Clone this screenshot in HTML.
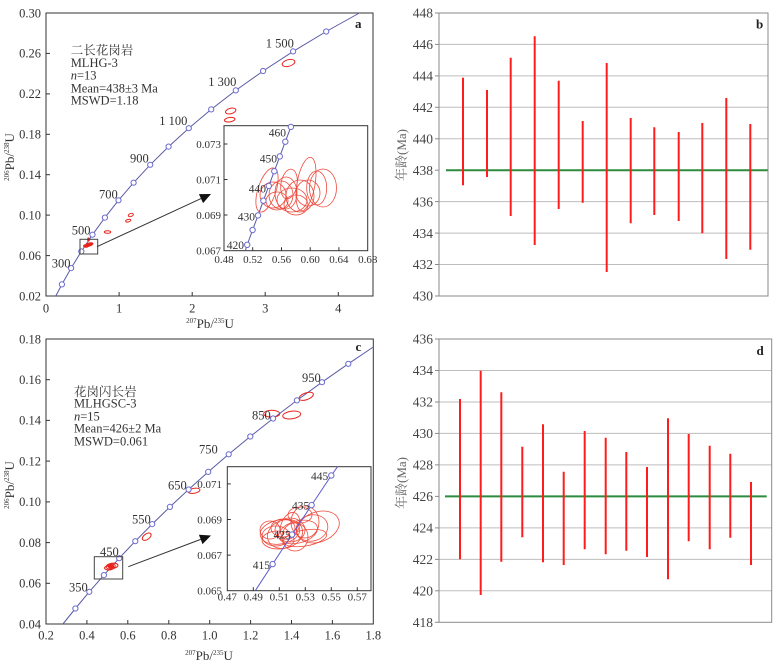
<!DOCTYPE html>
<html><head><meta charset="utf-8"><style>
html,body{margin:0;padding:0;background:#fff;}
svg{display:block;}
text{font-family:"Liberation Serif","Noto Serif CJK SC",serif;}
</style></head><body>
<svg width="780" height="667" viewBox="0 0 780 667" xmlns="http://www.w3.org/2000/svg">
<rect width="780" height="667" fill="#fff"/>

<!-- ================= PANEL A ================= -->
<g>
<rect x="46" y="13" width="327" height="283" fill="none" stroke="#333" stroke-width="1"/>
<g stroke="#333" stroke-width="1">
<line x1="46" y1="255.6" x2="50" y2="255.6"/><line x1="46" y1="215.1" x2="50" y2="215.1"/>
<line x1="46" y1="174.7" x2="50" y2="174.7"/><line x1="46" y1="134.3" x2="50" y2="134.3"/>
<line x1="46" y1="93.9" x2="50" y2="93.9"/><line x1="46" y1="53.4" x2="50" y2="53.4"/>
<line x1="119.1" y1="296" x2="119.1" y2="292"/><line x1="192.2" y1="296" x2="192.2" y2="292"/>
<line x1="265.2" y1="296" x2="265.2" y2="292"/><line x1="338.3" y1="296" x2="338.3" y2="292"/>
</g>
<g font-size="12.5" fill="#333" text-anchor="end">
<text x="41" y="17.3">0.30</text><text x="41" y="57.7">0.26</text><text x="41" y="98.2">0.22</text>
<text x="41" y="138.6">0.18</text><text x="41" y="179">0.14</text><text x="41" y="219.4">0.10</text>
<text x="41" y="259.9">0.06</text><text x="41" y="300.3">0.02</text>
</g>
<g font-size="12.5" fill="#333" text-anchor="middle">
<text x="46" y="312.5">0</text><text x="119.1" y="312.5">1</text><text x="192.2" y="312.5">2</text>
<text x="265.2" y="312.5">3</text><text x="338.3" y="312.5">4</text>
</g>
<text x="210" y="328" font-size="13" fill="#333" text-anchor="middle"><tspan font-size="7" dy="-5">207</tspan><tspan dy="5">Pb/</tspan><tspan font-size="7" dy="-5">235</tspan><tspan dy="5">U</tspan></text>
<text transform="translate(14,157) rotate(-90)" font-size="13" fill="#333" text-anchor="middle"><tspan font-size="7" dy="-5">206</tspan><tspan dy="5">Pb/</tspan><tspan font-size="7" dy="-5">238</tspan><tspan dy="5">U</tspan></text>
<text x="355" y="28" font-size="13" font-weight="bold" fill="#222">a</text>

<polyline fill="none" stroke="#5a5aa6" stroke-width="1" points="55.8,296 61.9,284.4 71.1,268.1 81.3,251.5 92.5,234.7 104.9,217.6 118.5,200.3 133.6,182.7 150.2,164.8 168.6,146.6 188.8,128.2 211.2,109.4 235.8,90.4 263.1,71.0 293.1,51.4 326.2,31.5 359.4,13"/>
<g fill="#fff" stroke="#6b6bd0" stroke-width="1">
<circle cx="61.9" cy="284.4" r="2.6"/><circle cx="71.1" cy="268.1" r="2.6"/><circle cx="81.3" cy="251.5" r="2.6"/>
<circle cx="92.5" cy="234.7" r="2.6"/><circle cx="104.9" cy="217.6" r="2.6"/><circle cx="118.5" cy="200.3" r="2.6"/>
<circle cx="133.6" cy="182.7" r="2.6"/><circle cx="150.2" cy="164.8" r="2.6"/><circle cx="168.6" cy="146.6" r="2.6"/>
<circle cx="188.8" cy="128.2" r="2.6"/><circle cx="211.2" cy="109.4" r="2.6"/><circle cx="235.8" cy="90.4" r="2.6"/>
<circle cx="263.1" cy="71.0" r="2.6"/><circle cx="293.1" cy="51.4" r="2.6"/><circle cx="326.2" cy="31.5" r="2.6"/>
</g>
<g font-size="12.5" fill="#333">
<text x="51.7" y="267.6">300</text><text x="71.7" y="234.3">500</text><text x="99" y="198.3">700</text>
<text x="130" y="162.6">900</text><text x="159.3" y="125">1 100</text><text x="208.3" y="86">1 300</text>
<text x="265.7" y="47.6">1 500</text>
</g>
<g font-size="12.5" fill="#333">
<text x="70.7" y="54.5" font-family="Noto Serif CJK SC, serif">二长花岗岩</text>
<text x="70.7" y="67">MLHG-3</text>
<text x="70.7" y="79.3"><tspan font-style="italic">n</tspan>=13</text>
<text x="70.7" y="92.3">Mean=438±3 Ma</text>
<text x="70.7" y="104.3">MSWD=1.18</text>
</g>
<!-- red ellipses main a -->
<g fill="none" stroke="#e8231c" stroke-width="1">
<ellipse cx="288.5" cy="63" rx="6.5" ry="3.3" transform="rotate(-15 288.5 63)"/>
<ellipse cx="230.7" cy="111" rx="5.3" ry="2.7" transform="rotate(-15 230.7 111)"/>
<ellipse cx="229.7" cy="119.7" rx="5.3" ry="2.2" transform="rotate(-8 229.7 119.7)"/>
<ellipse cx="130.8" cy="215" rx="2.6" ry="1.5" transform="rotate(-20 130.8 215)"/>
<ellipse cx="128.2" cy="220.7" rx="2.6" ry="1.2" transform="rotate(-15 128.2 220.7)"/>
<ellipse cx="107.5" cy="232" rx="3.2" ry="1.3"/>
</g>
<g fill="#e8231c" stroke="#e8231c" stroke-width="0.8">
<ellipse cx="89" cy="244.6" rx="4.2" ry="1.7" transform="rotate(-15 89 244.6)"/>
<ellipse cx="86" cy="246" rx="2.5" ry="1.3"/>
<ellipse cx="88.5" cy="239.5" rx="1" ry="1.6"/>
</g>
<rect x="80" y="239.3" width="17.7" height="14.7" fill="none" stroke="#444" stroke-width="1"/>
<line x1="97" y1="246.7" x2="201" y2="198.6" stroke="#333" stroke-width="1"/>
<polygon points="211,194 203.1,203.1 198.9,194.1" fill="#111"/>

<!-- inset a -->
<rect x="224" y="125.7" width="143.7" height="125" fill="#fff" stroke="#333" stroke-width="1"/>
<g stroke="#333" stroke-width="1">
<line x1="252.7" y1="250.7" x2="252.7" y2="247.2"/><line x1="281.5" y1="250.7" x2="281.5" y2="247.2"/>
<line x1="310.2" y1="250.7" x2="310.2" y2="247.2"/><line x1="338.9" y1="250.7" x2="338.9" y2="247.2"/>
<line x1="224" y1="215" x2="227.5" y2="215"/><line x1="224" y1="179.5" x2="227.5" y2="179.5"/>
<line x1="224" y1="144" x2="227.5" y2="144"/>
</g>
<g font-size="11" fill="#333" text-anchor="end">
<text x="221" y="148">0.073</text><text x="221" y="183.5">0.071</text>
<text x="221" y="219">0.069</text><text x="221" y="254.5">0.067</text>
</g>
<g font-size="11" fill="#333" text-anchor="middle">
<text x="224" y="263">0.48</text><text x="252.7" y="263">0.52</text><text x="281.5" y="263">0.56</text>
<text x="310.2" y="263">0.60</text><text x="338.9" y="263">0.64</text><text x="367.7" y="263">0.68</text>
</g>
<g fill="none" stroke="#ee4a3c" stroke-width="0.8">
<ellipse cx="267" cy="190" rx="9" ry="23" transform="rotate(18 267 190)"/>
<ellipse cx="273" cy="195" rx="13" ry="13"/>
<ellipse cx="281" cy="195" rx="12" ry="14"/>
<ellipse cx="286" cy="193" rx="11" ry="16"/>
<ellipse cx="306" cy="184" rx="9" ry="27" transform="rotate(10 306 184)"/>
<ellipse cx="323" cy="188" rx="13.5" ry="19"/>
<ellipse cx="316.7" cy="188" rx="10" ry="17"/>
<ellipse cx="292" cy="200" rx="15" ry="12"/>
<ellipse cx="300" cy="196" rx="14" ry="16"/>
<ellipse cx="289" cy="184" rx="8" ry="15" transform="rotate(10 289 184)"/>
<ellipse cx="296" cy="205" rx="12" ry="10"/>
<ellipse cx="308" cy="193" rx="12" ry="13"/>
<ellipse cx="277" cy="201" rx="11" ry="9"/>
</g>
<polyline fill="none" stroke="#5a5aa6" stroke-width="1" points="245.3,250.7 247.2,244.8 252.6,230.0 258.0,215.4 263.4,200.7 268.8,185.9 274.3,171.2 279.8,156.4 285.3,141.7 290.9,126.9 291.3,125.7"/>
<g fill="#fff" stroke="#6b6bd0" stroke-width="1">
<circle cx="247.2" cy="244.8" r="2.7"/><circle cx="252.6" cy="230.0" r="2.7"/><circle cx="258.0" cy="215.4" r="2.7"/>
<circle cx="263.4" cy="200.7" r="2.7"/><circle cx="268.8" cy="185.9" r="2.7"/><circle cx="274.3" cy="171.2" r="2.7"/>
<circle cx="279.8" cy="156.4" r="2.7"/><circle cx="285.3" cy="141.7" r="2.7"/><circle cx="290.9" cy="126.9" r="2.7"/>
</g>
<g font-size="11.5" fill="#333" text-anchor="end">
<text x="286" y="136.7">460</text><text x="277" y="162.3">450</text><text x="266" y="192.3">440</text>
<text x="255" y="220.7">430</text><text x="244" y="249">420</text>
</g>
</g>

<!-- ================= PANEL B ================= -->
<g>
<g stroke="#bdbdbd" stroke-width="1">
<line x1="439" y1="44.4" x2="768" y2="44.4"/><line x1="439" y1="75.9" x2="768" y2="75.9"/>
<line x1="439" y1="107.3" x2="768" y2="107.3"/><line x1="439" y1="138.8" x2="768" y2="138.8"/>
<line x1="439" y1="201.6" x2="768" y2="201.6"/><line x1="439" y1="233.1" x2="768" y2="233.1"/>
<line x1="439" y1="264.5" x2="768" y2="264.5"/>
</g>
<rect x="439" y="13" width="329" height="283" fill="none" stroke="#8a8a8a" stroke-width="1"/>
<g stroke="#8a8a8a" stroke-width="1">
<line x1="435" y1="13" x2="439" y2="13"/><line x1="435" y1="44.4" x2="439" y2="44.4"/>
<line x1="435" y1="75.9" x2="439" y2="75.9"/><line x1="435" y1="107.3" x2="439" y2="107.3"/>
<line x1="435" y1="138.8" x2="439" y2="138.8"/><line x1="435" y1="170.2" x2="439" y2="170.2"/>
<line x1="435" y1="201.6" x2="439" y2="201.6"/><line x1="435" y1="233.1" x2="439" y2="233.1"/>
<line x1="435" y1="264.5" x2="439" y2="264.5"/><line x1="435" y1="296" x2="439" y2="296"/>
</g>
<g font-size="13.5" fill="#444" text-anchor="end">
<text x="433" y="17.7">448</text><text x="433" y="49.1">446</text><text x="433" y="80.6">444</text>
<text x="433" y="112">442</text><text x="433" y="143.5">440</text><text x="433" y="174.9">438</text>
<text x="433" y="206.3">436</text><text x="433" y="237.8">434</text><text x="433" y="269.2">432</text>
<text x="433" y="300.7">430</text>
</g>
<text transform="translate(406,155) rotate(-90)" font-size="13" fill="#666" text-anchor="middle"><tspan font-family="Noto Serif CJK SC, serif">年龄</tspan>(Ma)</text>
<text x="756" y="28.5" font-size="13" font-weight="bold" fill="#222">b</text>
<line x1="446" y1="170.2" x2="767.7" y2="170.2" stroke="#2e8b3e" stroke-width="2"/>
<g stroke="#ff1c1c" stroke-width="2">
<line x1="463" y1="77.7" x2="463" y2="185.3"/>
<line x1="487" y1="90" x2="487" y2="177"/>
<line x1="510.7" y1="57.7" x2="510.7" y2="216"/>
<line x1="534.7" y1="36.3" x2="534.7" y2="245"/>
<line x1="558.7" y1="80.7" x2="558.7" y2="209"/>
<line x1="582.7" y1="121" x2="582.7" y2="202.7"/>
<line x1="606.7" y1="63" x2="606.7" y2="272"/>
<line x1="630.7" y1="118" x2="630.7" y2="223.3"/>
<line x1="654.3" y1="127.3" x2="654.3" y2="215"/>
<line x1="678.7" y1="132" x2="678.7" y2="221"/>
<line x1="702.3" y1="123" x2="702.3" y2="233.3"/>
<line x1="726.3" y1="98" x2="726.3" y2="259"/>
<line x1="750.3" y1="124" x2="750.3" y2="249.7"/>
</g>
</g>

<!-- ================= PANEL C ================= -->
<g>
<rect x="46" y="339" width="327.3" height="285" fill="none" stroke="#333" stroke-width="1"/>
<g stroke="#333" stroke-width="1">
<line x1="46" y1="583.3" x2="50" y2="583.3"/><line x1="46" y1="542.6" x2="50" y2="542.6"/>
<line x1="46" y1="501.9" x2="50" y2="501.9"/><line x1="46" y1="461.1" x2="50" y2="461.1"/>
<line x1="46" y1="420.4" x2="50" y2="420.4"/><line x1="46" y1="379.7" x2="50" y2="379.7"/>
<line x1="86.9" y1="624" x2="86.9" y2="620"/><line x1="127.8" y1="624" x2="127.8" y2="620"/>
<line x1="168.8" y1="624" x2="168.8" y2="620"/><line x1="209.7" y1="624" x2="209.7" y2="620"/>
<line x1="250.6" y1="624" x2="250.6" y2="620"/><line x1="291.5" y1="624" x2="291.5" y2="620"/>
<line x1="332.4" y1="624" x2="332.4" y2="620"/>
</g>
<g font-size="12.5" fill="#333" text-anchor="end">
<text x="41" y="343.3">0.18</text><text x="41" y="384">0.16</text><text x="41" y="424.7">0.14</text>
<text x="41" y="465.4">0.12</text><text x="41" y="506.2">0.10</text><text x="41" y="546.9">0.08</text>
<text x="41" y="587.6">0.06</text><text x="41" y="628.3">0.04</text>
</g>
<g font-size="12.5" fill="#333" text-anchor="middle">
<text x="46" y="639.5">0.2</text><text x="86.9" y="639.5">0.4</text><text x="127.8" y="639.5">0.6</text>
<text x="168.8" y="639.5">0.8</text><text x="209.7" y="639.5">1.0</text><text x="250.6" y="639.5">1.2</text>
<text x="291.5" y="639.5">1.4</text><text x="332.4" y="639.5">1.6</text><text x="373.3" y="639.5">1.8</text>
</g>
<text x="209" y="660" font-size="13" fill="#333" text-anchor="middle"><tspan font-size="7" dy="-5">207</tspan><tspan dy="5">Pb/</tspan><tspan font-size="7" dy="-5">235</tspan><tspan dy="5">U</tspan></text>
<text transform="translate(14,485) rotate(-90)" font-size="13" fill="#333" text-anchor="middle"><tspan font-size="7" dy="-5">206</tspan><tspan dy="5">Pb/</tspan><tspan font-size="7" dy="-5">238</tspan><tspan dy="5">U</tspan></text>
<text x="355.5" y="351" font-size="13" font-weight="bold" fill="#222">c</text>

<polyline fill="none" stroke="#5a5aa6" stroke-width="1" points="62.9,624 75.4,608.5 89.3,591.8 103.9,575.1 119.2,558.2 135.3,541.2 152.2,524.1 169.9,506.9 188.6,489.5 208.2,471.9 228.7,454.3 250.3,436.5 273.1,418.5 296.9,400.4 322.0,382.2 348.3,363.8 373.3,347"/>
<!-- red main c -->
<g fill="none" stroke="#e8231c" stroke-width="1">
<ellipse cx="146.7" cy="536.7" rx="5" ry="2.8" transform="rotate(-35 146.7 536.7)"/>
<ellipse cx="194" cy="490.8" rx="6" ry="2.5" transform="rotate(-10 194 490.8)"/>
<ellipse cx="271.7" cy="413.7" rx="8" ry="3.4"/>
<ellipse cx="291.7" cy="415" rx="9" ry="3.8" transform="rotate(-8 291.7 415)"/>
<ellipse cx="306.2" cy="396.3" rx="7.5" ry="3.4" transform="rotate(-20 306.2 396.3)"/>
</g>
<g fill="none" stroke="#e8231c" stroke-width="0.9">
<ellipse cx="110" cy="567" rx="5.5" ry="2.5" transform="rotate(-15 110 567)"/>
<ellipse cx="112" cy="566" rx="6" ry="2.8" transform="rotate(-10 112 566)"/>
<ellipse cx="109" cy="568" rx="4.5" ry="2"/>
<ellipse cx="114" cy="565.5" rx="4" ry="2.2"/>
<ellipse cx="111" cy="566.5" rx="3" ry="1.6" fill="#e8231c"/>
</g>
<g fill="#fff" stroke="#6b6bd0" stroke-width="1">
<circle cx="75.4" cy="608.5" r="2.6"/><circle cx="89.3" cy="591.8" r="2.6"/><circle cx="103.9" cy="575.1" r="2.6"/>
<circle cx="119.2" cy="558.2" r="2.6"/><circle cx="135.3" cy="541.2" r="2.6"/><circle cx="152.2" cy="524.1" r="2.6"/>
<circle cx="169.9" cy="506.9" r="2.6"/><circle cx="188.6" cy="489.5" r="2.6"/><circle cx="208.2" cy="471.9" r="2.6"/>
<circle cx="228.7" cy="454.3" r="2.6"/><circle cx="250.3" cy="436.5" r="2.6"/><circle cx="273.1" cy="418.5" r="2.6"/>
<circle cx="296.9" cy="400.4" r="2.6"/><circle cx="322.0" cy="382.2" r="2.6"/><circle cx="348.3" cy="363.8" r="2.6"/>
</g>
<g font-size="12.5" fill="#333">
<text x="69" y="591.3">350</text><text x="100" y="556">450</text><text x="132" y="523.3">550</text>
<text x="168" y="489.3">650</text><text x="199" y="453.3">750</text><text x="252" y="419.3">850</text>
<text x="302" y="382">950</text>
</g>
<g font-size="12.5" fill="#333">
<text x="74" y="396" font-family="Noto Serif CJK SC, serif">花岗闪长岩</text>
<text x="74" y="407.6">MLHGSC-3</text>
<text x="74" y="420.3"><tspan font-style="italic">n</tspan>=15</text>
<text x="74" y="432.6">Mean=426±2 Ma</text>
<text x="74" y="445.3">MSWD=0.061</text>
</g>
<rect x="94.3" y="556.7" width="28.4" height="22.3" fill="none" stroke="#444" stroke-width="1"/>
<line x1="128.3" y1="566.7" x2="200.7" y2="539.4" stroke="#333" stroke-width="1"/>
<polygon points="211,535.5 202.5,544.1 198.9,534.7" fill="#111"/>

<!-- inset c -->
<rect x="227.3" y="466.7" width="143.7" height="124" fill="#fff" stroke="#333" stroke-width="1"/>
<g stroke="#333" stroke-width="1">
<line x1="253.3" y1="590.7" x2="253.3" y2="587.2"/><line x1="279.3" y1="590.7" x2="279.3" y2="587.2"/>
<line x1="305.3" y1="590.7" x2="305.3" y2="587.2"/><line x1="331.3" y1="590.7" x2="331.3" y2="587.2"/>
<line x1="357.3" y1="590.7" x2="357.3" y2="587.2"/>
<line x1="227.3" y1="555.1" x2="230.8" y2="555.1"/><line x1="227.3" y1="519.5" x2="230.8" y2="519.5"/>
<line x1="227.3" y1="483.9" x2="230.8" y2="483.9"/>
</g>
<g font-size="11" fill="#333" text-anchor="end">
<text x="222" y="487.9">0.071</text><text x="222" y="523.5">0.069</text>
<text x="222" y="559.1">0.067</text><text x="222" y="594.7">0.065</text>
</g>
<g font-size="11" fill="#333" text-anchor="middle">
<text x="227.3" y="600.5">0.47</text><text x="253.3" y="600.5">0.49</text><text x="279.3" y="600.5">0.51</text>
<text x="305.3" y="600.5">0.53</text><text x="331.3" y="600.5">0.55</text><text x="357.3" y="600.5">0.57</text>
</g>
<g fill="none" stroke="#ee4a3c" stroke-width="0.8">
<ellipse cx="318" cy="527" rx="22" ry="15" transform="rotate(-20 318 527)"/>
<ellipse cx="312" cy="528" rx="16" ry="13" transform="rotate(-15 312 528)"/>
<ellipse cx="305" cy="522" rx="14" ry="16"/>
<ellipse cx="280" cy="532" rx="20" ry="12" transform="rotate(-10 280 532)"/>
<ellipse cx="285" cy="534" rx="18" ry="14" transform="rotate(-20 285 534)"/>
<ellipse cx="290" cy="530" rx="15" ry="12"/>
<ellipse cx="276" cy="536" rx="14" ry="10"/>
<ellipse cx="298" cy="532" rx="20" ry="11" transform="rotate(-15 298 532)"/>
<ellipse cx="283" cy="528" rx="12" ry="9"/>
<ellipse cx="295" cy="537" rx="13" ry="14"/>
<ellipse cx="270" cy="530" rx="10" ry="9"/>
<ellipse cx="305" cy="538" rx="22" ry="8" transform="rotate(-10 305 538)"/>
<ellipse cx="290" cy="526" rx="9" ry="14" transform="rotate(20 290 526)"/>
<ellipse cx="300" cy="515" rx="12" ry="8"/>
<ellipse cx="278" cy="540" rx="16" ry="9"/>
</g>
<polyline fill="none" stroke="#5a5ad0" stroke-width="1" points="255.3,590.7 272.6,564.1 292.0,534.6 311.6,505.1 331.3,475.5 337.6,466.7"/>
<g fill="#fff" stroke="#6b6bd0" stroke-width="1">
<circle cx="272.6" cy="564.1" r="2.7"/><circle cx="292.0" cy="534.6" r="2.7"/>
<circle cx="311.6" cy="505.1" r="2.7"/><circle cx="331.3" cy="475.5" r="2.7"/>
</g>
<g font-size="11.5" fill="#333" text-anchor="end">
<text x="328.3" y="480">445</text><text x="309.3" y="509.7">435</text>
<text x="290.7" y="538.3">425</text><text x="270" y="569">415</text>
</g>
</g>

<!-- ================= PANEL D ================= -->
<g>
<g stroke="#bdbdbd" stroke-width="1">
<line x1="439" y1="370.5" x2="771.7" y2="370.5"/><line x1="439" y1="402" x2="771.7" y2="402"/>
<line x1="439" y1="433.4" x2="771.7" y2="433.4"/><line x1="439" y1="464.9" x2="771.7" y2="464.9"/>
<line x1="439" y1="527.9" x2="771.7" y2="527.9"/><line x1="439" y1="559.4" x2="771.7" y2="559.4"/>
<line x1="439" y1="590.8" x2="771.7" y2="590.8"/>
</g>
<rect x="439" y="339" width="332.7" height="283.3" fill="none" stroke="#8a8a8a" stroke-width="1"/>
<g stroke="#8a8a8a" stroke-width="1">
<line x1="435" y1="339" x2="439" y2="339"/><line x1="435" y1="370.5" x2="439" y2="370.5"/>
<line x1="435" y1="402" x2="439" y2="402"/><line x1="435" y1="433.4" x2="439" y2="433.4"/>
<line x1="435" y1="464.9" x2="439" y2="464.9"/><line x1="435" y1="496.4" x2="439" y2="496.4"/>
<line x1="435" y1="527.9" x2="439" y2="527.9"/><line x1="435" y1="559.4" x2="439" y2="559.4"/>
<line x1="435" y1="590.8" x2="439" y2="590.8"/><line x1="435" y1="622.3" x2="439" y2="622.3"/>
</g>
<g font-size="13.5" fill="#444" text-anchor="end">
<text x="433" y="343.7">436</text><text x="433" y="375.2">434</text><text x="433" y="406.7">432</text>
<text x="433" y="438.1">430</text><text x="433" y="469.6">428</text><text x="433" y="501.1">426</text>
<text x="433" y="532.6">424</text><text x="433" y="564.1">422</text><text x="433" y="595.5">420</text>
<text x="433" y="627">418</text>
</g>
<text transform="translate(406,483) rotate(-90)" font-size="13" fill="#666" text-anchor="middle"><tspan font-family="Noto Serif CJK SC, serif">年龄</tspan>(Ma)</text>
<text x="756.5" y="355" font-size="13" font-weight="bold" fill="#222">d</text>
<line x1="445" y1="496.4" x2="766.7" y2="496.4" stroke="#2e8b3e" stroke-width="2"/>
<g stroke="#ff1c1c" stroke-width="2">
<line x1="460" y1="399" x2="460" y2="559.3"/>
<line x1="480.7" y1="370.7" x2="480.7" y2="595"/>
<line x1="501.3" y1="392.3" x2="501.3" y2="561.7"/>
<line x1="522.3" y1="446.7" x2="522.3" y2="537.3"/>
<line x1="543" y1="424.3" x2="543" y2="562.3"/>
<line x1="563.7" y1="471.7" x2="563.7" y2="565"/>
<line x1="584.7" y1="431" x2="584.7" y2="549.3"/>
<line x1="605.7" y1="437.7" x2="605.7" y2="554.3"/>
<line x1="626.3" y1="452" x2="626.3" y2="550.7"/>
<line x1="647" y1="467" x2="647" y2="557"/>
<line x1="668" y1="418.3" x2="668" y2="579.3"/>
<line x1="688.7" y1="434" x2="688.7" y2="541.3"/>
<line x1="709.7" y1="445.7" x2="709.7" y2="549.3"/>
<line x1="730.3" y1="453.7" x2="730.3" y2="537.7"/>
<line x1="751" y1="482" x2="751" y2="565"/>
</g>
</g>
</svg>
</body></html>
